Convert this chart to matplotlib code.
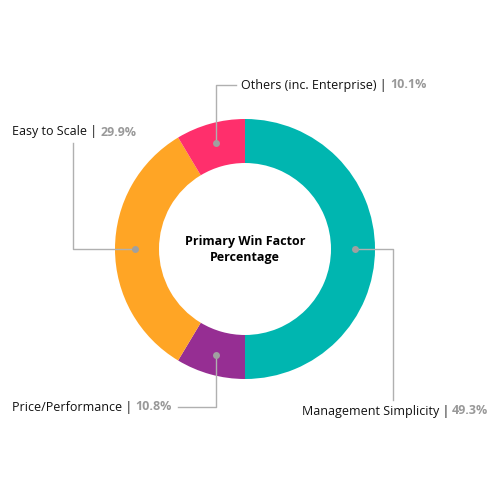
import numpy as np
import matplotlib.pyplot as plt

# slices, clockwise from 12 o'clock
labels = ["Management Simplicity", "Price/Performance", "Easy to Scale", "Others (inc. Enterprise)"]
pct_text = ["49.3%", "10.8%", "29.9%", "10.1%"]
# arc sizes as drawn in the original graphic (not exactly the printed numbers)
arc_values = [50.0, 8.6, 32.8, 8.6]
colors = ["#00B6B0", "#962E93", "#FFA525", "#FF2F6C"]

plt.rcParams['font.family'] = ['Open Sans', 'DejaVu Sans']

fig = plt.figure(figsize=(5, 5), dpi=100)
ax = fig.add_axes([0, 0, 1, 1])
ax.axis('off')

cx, cy = 245, 249
r_out, r_in = 130, 86
# y axis is flipped below, so clockwise on screen = counterclock in data
ax.pie(arc_values, colors=colors, startangle=-90, counterclock=True,
       radius=r_out, center=(cx, cy),
       wedgeprops=dict(width=r_out - r_in, linewidth=0))
ax.set_xlim(0, 500)
ax.set_ylim(500, 0)
ax.set_aspect('equal')

ax.text(cx, cy - 7, "Primary Win Factor", ha='center', va='center', fontsize=9, fontweight='bold')
ax.text(cx, cy + 8, "Percentage", ha='center', va='center', fontsize=9, fontweight='bold')

# mid-angle points on the ring
tot = sum(arc_values)
cum = 0
mids = []
for v in arc_values:
    a = np.deg2rad(90 - (cum + v / 2) / tot * 360)
    mids.append((cx + 110 * np.cos(a), cy - 110 * np.sin(a)))
    cum += v

lc = "#b0b0b0"
fs = 9
gray = "#999999"
fig.canvas.draw()
renderer = fig.canvas.get_renderer()

def label(x, y, i, align='left'):
    # name in black, percentage in gray bold right after it
    t1 = ax.text(x, y, labels[i] + " | ", ha='left', va='center', fontsize=fs, color='#111111')
    t2 = ax.text(x, y, pct_text[i], ha='left', va='center', fontsize=fs, color=gray, fontweight='bold')
    w1 = t1.get_window_extent(renderer).width
    w2 = t2.get_window_extent(renderer).width
    if align == 'right':
        x = x - w1 - w2
    elif align == 'center':
        x = x - (w1 + w2) / 2
    t1.set_x(x)
    t2.set_x(x + w1)

# Management Simplicity
x0, y0 = mids[0]
ax.plot([x0, 393, 393], [y0, y0, 400], color=lc, lw=1)
label(395, 411, 0, 'center')
# Price/Performance
x0, y0 = mids[1]
ax.plot([x0, x0, 178], [y0, 407, 407], color=lc, lw=1)
label(172, 407, 1, 'right')
# Easy to Scale
x0, y0 = mids[2]
ax.plot([x0, 73, 73], [y0, y0, 143], color=lc, lw=1)
label(12, 132, 2)
# Others
x0, y0 = mids[3]
ax.plot([x0, x0, 236], [y0, 85, 85], color=lc, lw=1)
label(241, 85, 3)

for x0, y0 in mids:
    ax.plot(x0, y0, 'o', color='#a0a0a0', ms=5, mec='none')

fig.savefig("out.png", dpi=100, facecolor='white')
